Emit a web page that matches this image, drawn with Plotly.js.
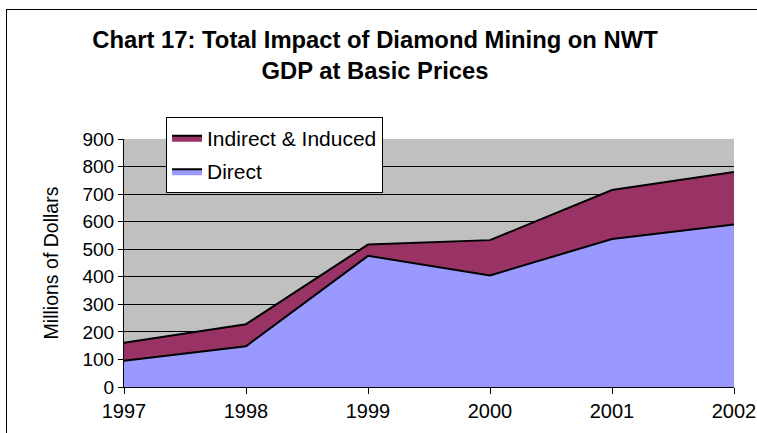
<!DOCTYPE html>
<html>
<head>
<meta charset="utf-8">
<script src="https://cdn.plot.ly/plotly-3.0.1.min.js"></script>
<style>
html,body{margin:0;padding:0;background:#fff;overflow:hidden;}
#chart{position:absolute;left:0;top:0;width:757px;height:433px;}
#frame{position:absolute;left:6px;top:9px;width:800px;height:500px;border:1px solid #000;pointer-events:none;}
</style>
</head>
<body>
<div id="chart"></div>
<div id="frame"></div>
<script>
const years = [1997, 1998, 1999, 2000, 2001, 2002];
const direct = [95, 148, 476, 405, 537, 590];
const indirectInduced = [66, 80, 41, 128, 178, 190];
const seriesNames = ["Direct", "Indirect & Induced"];
const titleText = "Chart 17: Total Impact of Diamond Mining on NWT<br>GDP at Basic Prices";
const yTitle = "Millions of Dollars";

const FONT = 'Liberation Sans, Arial, sans-serif';

const traces = [
  {x: years, y: direct, name: seriesNames[0], type: 'scatter', mode: 'lines',
   stackgroup: 'one', legendgroup: 'a', legendrank: 2,
   line: {color: '#000', width: 2}, fillcolor: '#9999FF'},
  {x: years, y: indirectInduced, name: seriesNames[1], type: 'scatter', mode: 'lines',
   stackgroup: 'one', legendgroup: 'b', legendrank: 1,
   line: {color: '#000', width: 2}, fillcolor: '#993366'}
];

const layout = {
  width: 757, height: 433,
  margin: {l: 124, r: 23, t: 139, b: 46},
  paper_bgcolor: '#fff',
  plot_bgcolor: '#C0C0C0',
  font: {family: FONT, color: '#000', size: 19},
  title: {text: titleText, x: 0.4954, xanchor: 'center', xref: 'container',
          y: 0.89, yanchor: 'top', yref: 'container',
          font: {size: 23.8, family: FONT, weight: 'bold', color: '#000'}},
  xaxis: {range: [1997, 2002], tickvals: years, ticktext: years.map(String),
          ticks: 'outside', ticklen: 6, tickcolor: '#000', showgrid: false,
          showline: true, linecolor: '#000', linewidth: 1, zeroline: false,
          tickfont: {size: 20}},
  yaxis: {range: [0, 900], dtick: 100, tick0: 0, ticks: 'outside', ticklen: 5, tickcolor: '#000',
          showgrid: true, gridcolor: '#000', gridwidth: 1, showline: true, linecolor: '#000',
          linewidth: 1, zeroline: false, tickfont: {size: 19},
          title: {text: yTitle, font: {size: 19.5}, standoff: 18}},
  legend: {x: 0.0689, y: 1.09, xanchor: 'left', yanchor: 'top', traceorder: 'grouped',
           bgcolor: '#fff', bordercolor: '#000', borderwidth: 1,
           font: {size: 21}, itemwidth: 30, tracegroupgap: 3},
  showlegend: true
};

Plotly.newPlot('chart', traces, layout, {displayModeBar: false, staticPlot: true});
</script>
</body>
</html>
